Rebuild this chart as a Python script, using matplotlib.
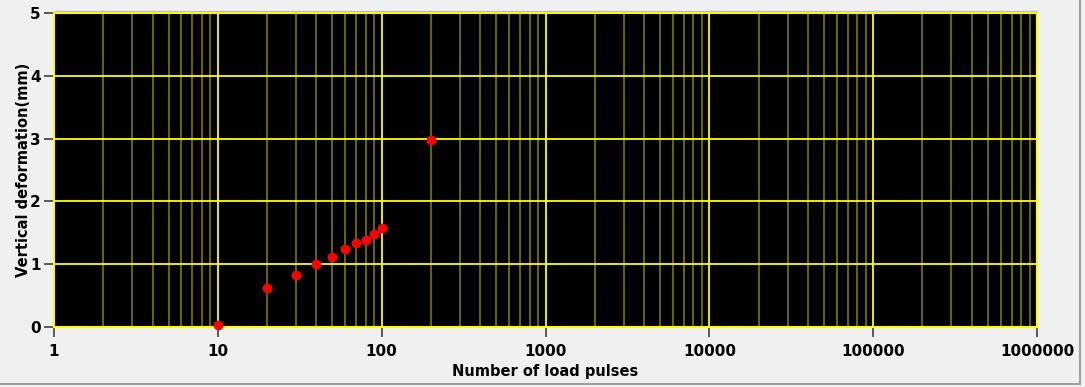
import matplotlib
matplotlib.use("Agg")
import matplotlib.pyplot as plt
from matplotlib.lines import Line2D
from matplotlib.ticker import FixedLocator, LogLocator, NullFormatter

# ===============================================
# Data
# ===============================================
pulses = [10, 20, 30, 40, 50, 60, 70, 80, 90, 100, 200]
deformation = [0.03, 0.62, 0.83, 1.00, 1.12, 1.24, 1.34, 1.385, 1.48, 1.57, 2.98]

x_ticks = [1, 10, 100, 1000, 10000, 100000, 1000000]
x_tick_labels = ["1", "10", "100", "1000", "10000", "100000", "1000000"]
y_ticks = [0, 1, 2, 3, 4, 5]

# ===============================================
# Figure
# ===============================================
fig = plt.figure(figsize=(10.85, 3.87), dpi=100, facecolor="#f0f0f0")
ax = fig.add_axes([54 / 1085, 1 - 327 / 387, (1037 - 54) / 1085, (327 - 13) / 387])
ax.set_facecolor("black")

ax.set_xscale("log")
ax.set_xlim(1, 1000000)
ax.set_ylim(0, 5)

ax.xaxis.set_major_locator(FixedLocator(x_ticks))
ax.set_xticklabels(x_tick_labels)
ax.xaxis.set_minor_locator(LogLocator(base=10, subs=range(2, 10), numticks=20))
ax.xaxis.set_minor_formatter(NullFormatter())
ax.set_yticks(y_ticks)

ax.grid(which="major", color="#ffff00", linewidth=1.3)
ax.grid(which="minor", axis="x", color="#858500", linewidth=1.1)
ax.set_axisbelow(True)

for s in ax.spines.values():
    s.set_color("#ffff00")
    s.set_linewidth(1.5)

ax.tick_params(which="major", length=7.5, width=1.2, color="#404040",
               labelsize=11, pad=2)
ax.tick_params(axis="x", which="major", pad=5)
ax.tick_params(which="minor", length=0)
for lbl in ax.get_xticklabels() + ax.get_yticklabels():
    lbl.set_fontweight("bold")

ax.plot(pulses, deformation, linestyle="none", marker="o", markersize=6,
        color="#ff0000", clip_on=False, zorder=5)

ax.set_xlabel("Number of load pulses", fontsize=10.5, fontweight="bold", labelpad=3)
ax.set_ylabel("Vertical deformation(mm)", fontsize=10.5, fontweight="bold", labelpad=-1)

# window-style frame
fig.add_artist(Line2D([1080 / 1085, 1080 / 1085], [1 - 384 / 387, 1.0],
                      transform=fig.transFigure, color="#a0a0a0", linewidth=1.5))
fig.add_artist(Line2D([0, 1080 / 1085], [1 - 384 / 387, 1 - 384 / 387],
                      transform=fig.transFigure, color="#a0a0a0", linewidth=1.5))
fig.add_artist(Line2D([54 / 1085, 1037 / 1085], [1 - 11 / 387, 1 - 11 / 387],
                      transform=fig.transFigure, color="#c0c0c0", linewidth=1.0))

fig.savefig("out.png", dpi=100, facecolor=fig.get_facecolor())
